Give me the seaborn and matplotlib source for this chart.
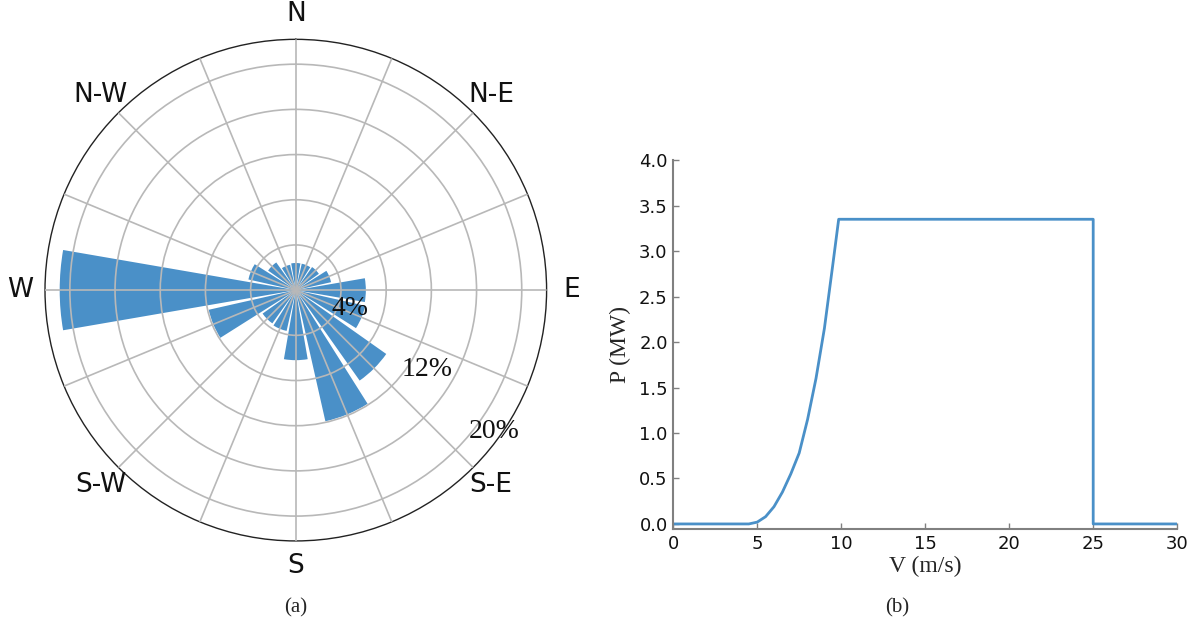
import matplotlib

matplotlib.use('Agg')
import matplotlib.pyplot as plt
import numpy as np
import pandas as pd
import seaborn as sns

# wind rose: frequency (%) per 16 compass sectors, starting at N, clockwise
directions = ['N', 'NNE', 'NE', 'ENE', 'E', 'ESE', 'SE', 'SSE',
              'S', 'SSW', 'SW', 'WSW', 'W', 'WNW', 'NW', 'NNW']
frequency = [2.4, 2.4, 2.5, 3.2, 6.2, 6.3, 9.8, 11.9,
             6.2, 3.7, 3.6, 7.9, 20.9, 4.3, 3.0, 2.3]
compass_labels = ['N', 'N-E', 'E', 'S-E', 'S', 'S-W', 'W', 'N-W']
ring_radii = [4, 8, 12, 16, 20]
ring_labels = ['4%', '', '12%', '', '20%']

# power curve of the turbine
wind_speed = [0.0, 4.5, 5.0, 5.5, 6.0, 6.5, 7.0, 7.5, 8.0, 8.5, 9.0, 9.5, 9.85,
              25.0, 25.0, 30.0]
power_mw = [0.0, 0.0, 0.02, 0.08, 0.19, 0.35, 0.55, 0.78, 1.15, 1.6, 2.15, 2.85, 3.35,
            3.35, 0.0, 0.0]

sns.set_theme(style="white")
plt.rcParams['font.family'] = ['DejaVu Sans']
serif = ['Liberation Serif', 'DejaVu Serif']
blue = '#4a90c8'

fig = plt.figure(figsize=(12, 6.28), dpi=100)

# ---- (a) wind rose
ax1 = fig.add_axes([0.0375, 0.1385, 0.418, 0.799], projection='polar')
ax1.set_theta_zero_location('N')
ax1.set_theta_direction(-1)
theta = np.deg2rad(np.arange(len(directions)) * 22.5)
ax1.bar(theta, frequency, width=np.deg2rad(22.5) * 0.87, color=blue,
        edgecolor='none', zorder=1)
ax1.set_axisbelow(False)
ax1.set_ylim(0, 22.2)

tick_labels = []
for i in range(16):
    tick_labels.append(compass_labels[i // 2] if i % 2 == 0 else '')
ax1.set_xticks(theta)
ax1.set_xticklabels(tick_labels, fontsize=19, color='#111111')
ax1.tick_params(axis='x', pad=5)
ax1.set_rgrids(ring_radii, labels=[''] * len(ring_radii))
ax1.grid(True, color='#b8b8b8', linewidth=1.2)
for g in ax1.get_xgridlines() + ax1.get_ygridlines():
    g.set_zorder(2)
ax1.spines['polar'].set_color('#222222')
ax1.spines['polar'].set_linewidth(1.0)

# percentage labels, placed just outside their ring
label_pos = {'4%': (109, 1.1), '12%': (121, 1.6), '20%': (125.5, 1.6)}
for r, lab in zip(ring_radii, ring_labels):
    if lab:
        bearing, dr = label_pos[lab]
        ax1.text(np.deg2rad(bearing), r + dr, lab, fontsize=20, family=serif,
                 ha='center', va='center', color='#111111', zorder=3)

# ---- (b) power curve
ax2 = fig.add_axes([0.561, 0.157, 0.42, 0.588])
df = pd.DataFrame({'V': wind_speed, 'P': power_mw})
sns.lineplot(data=df, x='V', y='P', sort=False, estimator=None, color=blue,
             linewidth=2, ax=ax2)
ax2.set_xlim(0, 30)
ax2.set_ylim(-0.06, 4.0)
ax2.set_xticks(np.arange(0, 31, 5))
ax2.set_yticks(np.arange(0, 4.01, 0.5))
ax2.set_yticklabels(['%.1f' % t for t in np.arange(0, 4.01, 0.5)])
ax2.set_xlabel('V (m/s)', fontsize=17, family=serif, labelpad=2)
ax2.set_ylabel('P (MW)', fontsize=17, family=serif, labelpad=6)
sns.despine(ax=ax2)
for side in ['left', 'bottom']:
    ax2.spines[side].set_color('#808080')
    ax2.spines[side].set_linewidth(1.5)
ax2.tick_params(direction='in', length=4, width=1, color='#808080',
                labelsize=13, labelcolor='#111111', pad=4,
                left=True, bottom=True)

fig.text(0.246, 0.025, '(a)', fontsize=15, family=serif, ha='center')
fig.text(0.7475, 0.025, '(b)', fontsize=15, family=serif, ha='center')

plt.savefig('out.png', dpi=100)
plt.close()
